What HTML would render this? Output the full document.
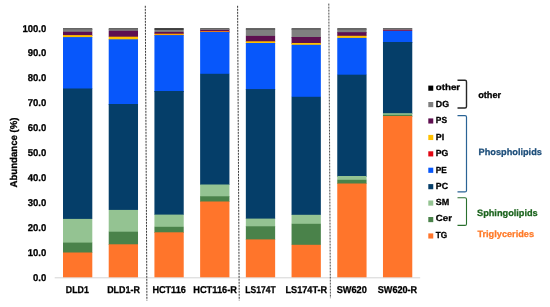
<!DOCTYPE html>
<html><head><meta charset="utf-8"><title>Lipid class abundance</title>
<style>
html,body{margin:0;padding:0;background:#fff;}
body{width:550px;height:307px;overflow:hidden;}
svg{display:block;}
text{stroke:#000;stroke-width:0.28px;text-rendering:geometricPrecision;font-family:"Liberation Sans",Arial,sans-serif;font-weight:bold;fill:#000;}
.ax{font-size:9.9px;}
.lg{font-size:8.9px;}
.grp{font-size:9.2px;}
</style></head><body>
<svg width="550" height="307" viewBox="0 0 550 307">
<rect width="550" height="307" fill="#fff"/>
<line x1="54.7" y1="277.8" x2="420.2" y2="277.8" stroke="#d4d4d4" stroke-width="1"/>
<rect x="63.00" y="28.1" width="29.3" height="1.9" fill="#555555"/>
<rect x="63.00" y="29.3" width="29.3" height="2.7" fill="#7f7f7f"/>
<rect x="63.00" y="31.8" width="29.3" height="4.2" fill="#5e0f50"/>
<rect x="63.00" y="35.1" width="29.3" height="2.9" fill="#ffc000"/>
<rect x="63.00" y="37.1" width="29.3" height="51.9" fill="#0757fb"/>
<rect x="63.00" y="88.5" width="29.3" height="130.5" fill="#053e69"/>
<rect x="63.00" y="218.9" width="29.3" height="24.1" fill="#94c392"/>
<rect x="63.00" y="242.6" width="29.3" height="10.4" fill="#4a824a"/>
<rect x="63.00" y="252.5" width="29.3" height="24.8" fill="#ff752b"/>
<rect x="108.71" y="28.1" width="29.3" height="1.9" fill="#555555"/>
<rect x="108.71" y="29.3" width="29.3" height="1.7" fill="#7f7f7f"/>
<rect x="108.71" y="30.8" width="29.3" height="6.2" fill="#5e0f50"/>
<rect x="108.71" y="36.7" width="29.3" height="3.3" fill="#ffc000"/>
<rect x="108.71" y="39.3" width="29.3" height="65.7" fill="#0757fb"/>
<rect x="108.71" y="104.0" width="29.3" height="106.0" fill="#053e69"/>
<rect x="108.71" y="209.9" width="29.3" height="22.1" fill="#94c392"/>
<rect x="108.71" y="231.7" width="29.3" height="13.3" fill="#4a824a"/>
<rect x="108.71" y="244.3" width="29.3" height="33.0" fill="#ff752b"/>
<rect x="154.42" y="28.1" width="29.3" height="1.9" fill="#303030"/>
<rect x="154.42" y="29.8" width="29.3" height="2.2" fill="#7f7f7f"/>
<rect x="154.42" y="31.9" width="29.3" height="2.1" fill="#5e0f50"/>
<rect x="154.42" y="33.7" width="29.3" height="2.3" fill="#ffa400"/>
<rect x="154.42" y="35.1" width="29.3" height="56.9" fill="#0757fb"/>
<rect x="154.42" y="91.0" width="29.3" height="124.0" fill="#053e69"/>
<rect x="154.42" y="214.6" width="29.3" height="12.4" fill="#94c392"/>
<rect x="154.42" y="226.8" width="29.3" height="6.2" fill="#4a824a"/>
<rect x="154.42" y="232.3" width="29.3" height="45.0" fill="#ff752b"/>
<rect x="200.13" y="28.1" width="29.3" height="1.9" fill="#555555"/>
<rect x="200.13" y="29.0" width="29.3" height="1.0" fill="#7f7f7f"/>
<rect x="200.13" y="29.9" width="29.3" height="2.1" fill="#5e0f50"/>
<rect x="200.13" y="31.0" width="29.3" height="2.0" fill="#e07820"/>
<rect x="200.13" y="32.0" width="29.3" height="42.0" fill="#0757fb"/>
<rect x="200.13" y="73.8" width="29.3" height="111.2" fill="#053e69"/>
<rect x="200.13" y="184.5" width="29.3" height="12.5" fill="#94c392"/>
<rect x="200.13" y="196.3" width="29.3" height="5.7" fill="#4a824a"/>
<rect x="200.13" y="201.5" width="29.3" height="75.8" fill="#ff752b"/>
<rect x="245.84" y="28.1" width="29.3" height="1.9" fill="#555555"/>
<rect x="245.84" y="29.7" width="29.3" height="6.3" fill="#7f7f7f"/>
<rect x="245.84" y="35.9" width="29.3" height="6.1" fill="#5e0f50"/>
<rect x="245.84" y="41.3" width="29.3" height="2.7" fill="#ffc000"/>
<rect x="245.84" y="43.0" width="29.3" height="47.0" fill="#0757fb"/>
<rect x="245.84" y="89.1" width="29.3" height="129.9" fill="#053e69"/>
<rect x="245.84" y="218.6" width="29.3" height="8.4" fill="#94c392"/>
<rect x="245.84" y="226.3" width="29.3" height="13.7" fill="#4a824a"/>
<rect x="245.84" y="239.4" width="29.3" height="37.9" fill="#ff752b"/>
<rect x="291.55" y="28.1" width="29.3" height="1.9" fill="#555555"/>
<rect x="291.55" y="29.5" width="29.3" height="8.5" fill="#7f7f7f"/>
<rect x="291.55" y="37.0" width="29.3" height="7.0" fill="#5e0f50"/>
<rect x="291.55" y="43.0" width="29.3" height="2.0" fill="#ffc000"/>
<rect x="291.55" y="44.8" width="29.3" height="52.2" fill="#0757fb"/>
<rect x="291.55" y="96.8" width="29.3" height="118.2" fill="#053e69"/>
<rect x="291.55" y="214.8" width="29.3" height="9.2" fill="#94c392"/>
<rect x="291.55" y="223.8" width="29.3" height="21.2" fill="#4a824a"/>
<rect x="291.55" y="244.8" width="29.3" height="32.5" fill="#ff752b"/>
<rect x="337.26" y="28.1" width="29.3" height="1.9" fill="#555555"/>
<rect x="337.26" y="29.5" width="29.3" height="3.5" fill="#7f7f7f"/>
<rect x="337.26" y="32.2" width="29.3" height="3.8" fill="#5e0f50"/>
<rect x="337.26" y="35.8" width="29.3" height="2.2" fill="#ffc000"/>
<rect x="337.26" y="37.9" width="29.3" height="37.1" fill="#0757fb"/>
<rect x="337.26" y="74.7" width="29.3" height="102.3" fill="#053e69"/>
<rect x="337.26" y="176.0" width="29.3" height="4.0" fill="#94c392"/>
<rect x="337.26" y="179.8" width="29.3" height="4.2" fill="#4a824a"/>
<rect x="337.26" y="183.5" width="29.3" height="93.8" fill="#ff752b"/>
<rect x="382.97" y="28.1" width="29.3" height="0.9" fill="#555555"/>
<rect x="382.97" y="28.9" width="29.3" height="1.1" fill="#7f7f7f"/>
<rect x="382.97" y="29.8" width="29.3" height="1.2" fill="#8a2050"/>
<rect x="382.97" y="30.9" width="29.3" height="12.1" fill="#0757fb"/>
<rect x="382.97" y="42.0" width="29.3" height="72.0" fill="#053e69"/>
<rect x="382.97" y="113.2" width="29.3" height="1.8" fill="#94c392"/>
<rect x="382.97" y="114.8" width="29.3" height="2.2" fill="#4a824a"/>
<rect x="382.97" y="116.0" width="29.3" height="161.3" fill="#ff752b"/>
<line x1="145.3" y1="5.8" x2="146.9" y2="300.5" stroke="#3a3a3a" stroke-width="1.0" stroke-dasharray="2 1"/>
<line x1="237.6" y1="5.8" x2="239.2" y2="300.4" stroke="#3a3a3a" stroke-width="1.0" stroke-dasharray="2 1"/>
<line x1="328.8" y1="3.6" x2="330.4" y2="298.2" stroke="#3a3a3a" stroke-width="0.9" stroke-dasharray="2 1"/>
<text class="ax" transform="translate(46.3,280.75) scale(0.965,1)" text-anchor="end">0.0</text>
<text class="ax" transform="translate(46.3,255.83) scale(0.965,1)" text-anchor="end">10.0</text>
<text class="ax" transform="translate(46.3,230.91) scale(0.965,1)" text-anchor="end">20.0</text>
<text class="ax" transform="translate(46.3,205.99) scale(0.965,1)" text-anchor="end">30.0</text>
<text class="ax" transform="translate(46.3,181.07) scale(0.965,1)" text-anchor="end">40.0</text>
<text class="ax" transform="translate(46.3,156.15) scale(0.965,1)" text-anchor="end">50.0</text>
<text class="ax" transform="translate(46.3,131.23) scale(0.965,1)" text-anchor="end">60.0</text>
<text class="ax" transform="translate(46.3,106.31) scale(0.965,1)" text-anchor="end">70.0</text>
<text class="ax" transform="translate(46.3,81.39) scale(0.965,1)" text-anchor="end">80.0</text>
<text class="ax" transform="translate(46.3,56.47) scale(0.965,1)" text-anchor="end">90.0</text>
<text class="ax" transform="translate(46.3,31.55) scale(0.965,1)" text-anchor="end">100.0</text>
<text class="ax" transform="translate(16.9,152.5) rotate(-90) scale(0.973,1)" text-anchor="middle">Abundance (%)</text>
<text class="ax" transform="translate(77.30,292.8) scale(0.89,1)" text-anchor="middle">DLD1</text>
<text class="ax" transform="translate(123.50,292.8) scale(0.903,1)" text-anchor="middle">DLD1-R</text>
<text class="ax" transform="translate(169.10,292.8) scale(0.923,1)" text-anchor="middle">HCT116</text>
<text class="ax" transform="translate(215.10,292.8) scale(0.935,1)" text-anchor="middle">HCT116-R</text>
<text class="ax" transform="translate(260.50,292.8) scale(0.862,1)" text-anchor="middle">LS174T</text>
<text class="ax" transform="translate(306.35,292.8) scale(0.925,1)" text-anchor="middle">LS174T-R</text>
<text class="ax" transform="translate(351.75,292.8) scale(0.932,1)" text-anchor="middle">SW620</text>
<text class="ax" transform="translate(397.45,292.8) scale(0.922,1)" text-anchor="middle">SW620-R</text>
<rect x="428.3" y="85.6" width="4.95" height="5.15" fill="#000000"/><text class="lg" transform="translate(435.8,90.0) scale(1.146,1)" style="font-size:8.5px">other</text>
<rect x="428.3" y="102.0" width="4.95" height="5.15" fill="#7f7f7f"/><text class="lg" transform="translate(435.8,106.6) scale(0.997,1)" style="font-size:8.9px">DG</text>
<rect x="428.3" y="118.4" width="4.95" height="5.15" fill="#5e0f50"/><text class="lg" transform="translate(435.8,123.1) scale(0.947,1)" style="font-size:8.9px">PS</text>
<rect x="428.3" y="134.9" width="4.95" height="5.15" fill="#ffc000"/><text class="lg" transform="translate(435.8,139.5) scale(1.004,1)" style="font-size:8.9px">PI</text>
<rect x="428.3" y="151.3" width="4.95" height="5.15" fill="#e20613"/><text class="lg" transform="translate(435.8,156.0) scale(0.983,1)" style="font-size:8.9px">PG</text>
<rect x="428.3" y="167.7" width="4.95" height="5.15" fill="#0757fb"/><text class="lg" transform="translate(435.8,172.5) scale(0.931,1)" style="font-size:8.9px">PE</text>
<rect x="428.3" y="184.1" width="4.95" height="5.15" fill="#053e69"/><text class="lg" transform="translate(435.8,189.1) scale(0.993,1)" style="font-size:8.9px">PC</text>
<rect x="428.3" y="200.5" width="4.95" height="5.15" fill="#94c392"/><text class="lg" transform="translate(435.8,205.1) scale(1.014,1)" style="font-size:8.9px">SM</text>
<rect x="428.3" y="217.0" width="4.95" height="5.15" fill="#4a824a"/><text class="lg" transform="translate(435.8,221.4) scale(1.092,1)" style="font-size:8.9px">Cer</text>
<rect x="428.3" y="233.4" width="4.95" height="5.15" fill="#ff752b"/><text class="lg" transform="translate(435.8,237.7) scale(0.931,1)" style="font-size:8.9px">TG</text>
<path d="M457.5 80.3 H465.0 Q466.5 80.3 466.5 81.8 V106.5 Q466.5 108.0 465.0 108.0 H457.5" fill="none" stroke="#262626" stroke-width="1.4"/>
<path d="M457.5 115.6 H465.0 Q466.5 115.6 466.5 117.1 V190.4 Q466.5 191.9 465.0 191.9 H457.5" fill="none" stroke="#2a6395" stroke-width="1.2"/>
<path d="M457.5 197.7 H465.0 Q466.5 197.7 466.5 199.2 V223.9 Q466.5 225.4 465.0 225.4 H457.5" fill="none" stroke="#2a702e" stroke-width="1.1"/>
<text class="grp" x="478.2" y="98.3">other</text>
<text class="grp" x="478.6" y="154.7" style="fill:#1d4e7a;stroke:#1d4e7a">Phospholipids</text>
<text class="grp" x="477" y="216.3" style="fill:#1d651f;stroke:#1d651f">Sphingolipids</text>
<text class="grp" x="477.4" y="237.1" style="fill:#ff7a28;stroke:#ff7a28">Triglycerides</text>
</svg></body></html>
